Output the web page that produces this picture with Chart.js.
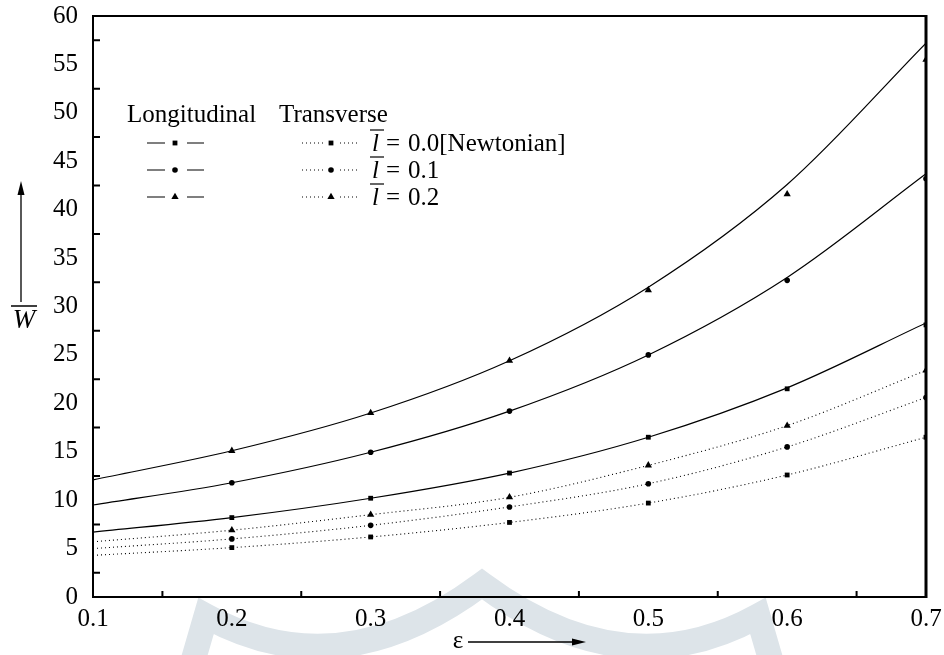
<!DOCTYPE html>
<html>
<head>
<meta charset="utf-8">
<script src="https://cdn.jsdelivr.net/npm/chart.js@4.4.1/dist/chart.umd.min.js"></script>
<style>
  html, body { margin: 0; padding: 0; background: #ffffff; }
  #wrap { width: 944px; height: 655px; position: relative; }
</style>
</head>
<body>
<div id="wrap"><canvas id="c" width="944" height="655"></canvas></div>
<script>
// ---- data ----
const eps = [0.1, 0.2, 0.3, 0.4, 0.5, 0.6, 0.7];          // curve abscissae
const markerEps = [0.2, 0.3, 0.4, 0.5, 0.6, 0.7];          // marker abscissae

// Longitudinal (solid curves)
const longCurveL0 = [6.7, 8.2, 10.2, 12.8, 16.5, 21.6, 28.3];
const longCurveL1 = [9.5, 11.8, 14.95, 19.2, 25.0, 33.0, 43.7];
const longCurveL2 = [12.1, 15.1, 19.0, 24.4, 32.0, 42.6, 57.2];
const longMarkL0 = [8.2, 10.2, 12.8, 16.5, 21.5, 28.1];
const longMarkL1 = [11.8, 14.95, 19.2, 25.0, 32.7, 43.2];
const longMarkL2 = [15.1, 19.0, 24.4, 31.7, 41.6, 55.5];

// Transverse (dotted curves)
const transCurveL0 = [4.3, 5.1, 6.2, 7.7, 9.7, 12.6, 16.5];
const transCurveL1 = [5.0, 6.0, 7.4, 9.3, 11.7, 15.5, 20.6];
const transCurveL2 = [5.7, 6.9, 8.5, 10.3, 13.6, 17.7, 23.4];
const transMarkL0 = [5.1, 6.2, 7.7, 9.7, 12.6, 16.5];
const transMarkL1 = [6.0, 7.4, 9.3, 11.7, 15.5, 20.6];
const transMarkL2 = [6.9, 8.5, 10.3, 13.6, 17.7, 23.4];

const xTickValues = [0.1, 0.2, 0.3, 0.4, 0.5, 0.6, 0.7];
const yTickValues = [0, 5, 10, 15, 20, 25, 30, 35, 40, 45, 50, 55, 60];
const xMinorTicks = [0.15, 0.25, 0.35, 0.45, 0.55, 0.65];
const yMinorTicks = [2.5, 7.5, 12.5, 17.5, 22.5, 27.5, 32.5, 37.5, 42.5, 47.5, 52.5, 57.5];

const legendHeads = ['Longitudinal', 'Transverse'];
const legendLabels = ['0.0[Newtonian]', '0.1', '0.2'];
const legendShapes = ['rect', 'circle', 'triangle'];

// ---- helpers ----
const toXY = (xs, ys) => ys.map((y, i) => ({ x: xs[i], y: y }));
const SERIF = '"Liberation Serif", "Times New Roman", serif';

function curve(ys, dotted) {
  return {
    data: toXY(eps, ys), showLine: true, pointRadius: 0, pointHoverRadius: 0,
    borderColor: '#000', borderWidth: dotted ? 1.1 : 1.2,
    borderDash: dotted ? [1, 3] : [], cubicInterpolationMode: 'monotone', fill: false
  };
}
function marks(ys, shape) {
  const r = shape === 'rect' ? 3.4 : (shape === 'circle' ? 2.8 : 4.2);
  return {
    data: toXY(markerEps, ys), showLine: false, pointStyle: shape,
    pointRadius: r, pointHoverRadius: r, pointBackgroundColor: '#000',
    pointBorderColor: '#000', pointBorderWidth: 0
  };
}

function drawPointShape(ctx, shape, x, y) {
  Chart.helpers.drawPoint(ctx, {
    pointStyle: shape,
    radius: shape === 'rect' ? 3.4 : (shape === 'circle' ? 2.8 : 4.2),
    rotation: 0, borderWidth: 0
  }, x, y);
}

const watermark = {
  id: 'watermark',
  beforeDraw(chart) {
    const ctx = chart.ctx;
    ctx.save();
    ctx.strokeStyle = '#dde4e9';
    ctx.lineWidth = 25;
    ctx.lineJoin = 'miter';
    ctx.miterLimit = 10;
    ctx.beginPath();
    ctx.moveTo(186, 685);
    ctx.lineTo(206, 616);
    ctx.quadraticCurveTo(340, 690, 482, 584);
    ctx.quadraticCurveTo(624, 690, 758, 616);
    ctx.lineTo(778, 685);
    ctx.stroke();
    ctx.restore();
  }
};

const frame = {
  id: 'frame',
  afterDraw(chart) {
    const ctx = chart.ctx;
    const a = chart.chartArea;
    const xs = chart.scales.x, ys = chart.scales.y;
    ctx.save();
    ctx.strokeStyle = '#000';
    ctx.lineCap = 'butt';
    // inward minor ticks
    ctx.lineWidth = 2;
    ctx.beginPath();
    xMinorTicks.forEach(v => {
      const px = xs.getPixelForValue(v);
      ctx.moveTo(px, a.bottom); ctx.lineTo(px, a.bottom - 6);
    });
    yMinorTicks.forEach(v => {
      const py = ys.getPixelForValue(v);
      ctx.moveTo(a.left, py); ctx.lineTo(a.left + 7, py);
    });
    ctx.stroke();
    // frame
    ctx.lineWidth = 2;
    ctx.beginPath();
    ctx.moveTo(a.left, a.top); ctx.lineTo(a.right, a.top);
    ctx.moveTo(a.left, a.top - 1); ctx.lineTo(a.left, a.bottom + 1);
    ctx.moveTo(a.left - 1, a.bottom); ctx.lineTo(a.right + 1, a.bottom);
    ctx.stroke();
    ctx.lineWidth = 3;
    ctx.beginPath();
    ctx.moveTo(a.right, a.top - 1); ctx.lineTo(a.right, a.bottom + 1);
    ctx.stroke();

    // legend
    ctx.fillStyle = '#000';
    ctx.font = '25px ' + SERIF;
    ctx.textBaseline = 'middle';
    ctx.textAlign = 'left';
    ctx.fillText(legendHeads[0], 127, 115);
    ctx.fillText(legendHeads[1], 279, 115);
    const rows = [143, 170, 197];
    rows.forEach((yc, i) => {
      // longitudinal sample
      ctx.setLineDash([]);
      ctx.lineWidth = 1.2;
      ctx.beginPath();
      ctx.moveTo(147, yc); ctx.lineTo(165, yc);
      ctx.moveTo(187, yc); ctx.lineTo(204, yc);
      ctx.stroke();
      drawPointShape(ctx, legendShapes[i], 175, yc);
      // transverse sample
      ctx.setLineDash([1, 3]);
      ctx.lineWidth = 1.1;
      ctx.beginPath();
      ctx.moveTo(302, yc); ctx.lineTo(325, yc);
      ctx.moveTo(340, yc); ctx.lineTo(358, yc);
      ctx.stroke();
      ctx.setLineDash([]);
      drawPointShape(ctx, legendShapes[i], 331, yc);
      // label: italic l with overline
      ctx.font = 'italic 25px ' + SERIF;
      ctx.fillText('l', 372, yc + 1);
      ctx.lineWidth = 1.2;
      ctx.beginPath();
      ctx.moveTo(370, yc - 13); ctx.lineTo(384, yc - 13);
      ctx.stroke();
      ctx.font = '25px ' + SERIF;
      ctx.fillText('=', 386, yc + 1);
      ctx.fillText(legendLabels[i], 408, yc + 1);
    });

    // y title: W with overline and arrow
    ctx.font = 'italic 27px ' + SERIF;
    ctx.textAlign = 'center';
    ctx.fillText('W', 24, 321);
    ctx.lineWidth = 1.3;
    ctx.beginPath();
    ctx.moveTo(11, 306); ctx.lineTo(37, 306);
    ctx.moveTo(21, 302); ctx.lineTo(21, 192);
    ctx.stroke();
    ctx.beginPath();
    ctx.moveTo(21, 181); ctx.lineTo(17.5, 195); ctx.lineTo(24.5, 195); ctx.closePath();
    ctx.fill();

    // x title: epsilon with arrow
    ctx.font = '25px ' + SERIF;
    ctx.fillText('ε', 458, 641);
    ctx.lineWidth = 1.3;
    ctx.beginPath();
    ctx.moveTo(468, 642); ctx.lineTo(575, 642);
    ctx.stroke();
    ctx.beginPath();
    ctx.moveTo(586, 642); ctx.lineTo(572, 638.5); ctx.lineTo(572, 645.5); ctx.closePath();
    ctx.fill();
    ctx.restore();
  }
};

new Chart(document.getElementById('c'), {
  type: 'scatter',
  data: {
    datasets: [
      curve(longCurveL0, false), curve(longCurveL1, false), curve(longCurveL2, false),
      curve(transCurveL0, true), curve(transCurveL1, true), curve(transCurveL2, true),
      marks(longMarkL0, 'rect'), marks(longMarkL1, 'circle'), marks(longMarkL2, 'triangle'),
      marks(transMarkL0, 'rect'), marks(transMarkL1, 'circle'), marks(transMarkL2, 'triangle')
    ]
  },
  options: {
    responsive: false,
    animation: false,
    events: [],
    layout: { padding: { left: 0, right: 18, top: 16, bottom: 0 } },
    plugins: { legend: { display: false }, tooltip: { enabled: false }, title: { display: false } },
    scales: {
      x: {
        type: 'linear', min: 0.1, max: 0.7,
        afterFit: s => { s.height = 58; s.paddingLeft = 0; s.paddingRight = 0; },
        afterBuildTicks: s => { s.ticks = xTickValues.map(v => ({ value: v })); },
        grid: { display: false, drawTicks: false },
        border: { display: false },
        ticks: {
          color: '#000', padding: 7, maxRotation: 0, autoSkip: false,
          font: { family: SERIF, size: 25 },
          callback: v => (Math.round(v * 10) / 10).toFixed(1)
        }
      },
      y: {
        type: 'linear', min: 0, max: 60,
        afterFit: s => { s.width = 93; s.paddingTop = 0; s.paddingBottom = 0; },
        afterBuildTicks: s => { s.ticks = yTickValues.map(v => ({ value: v })); },
        grid: { display: false, drawTicks: false },
        border: { display: false },
        ticks: {
          color: '#000', padding: 15, autoSkip: false,
          font: { family: SERIF, size: 25 },
          callback: v => String(v)
        }
      }
    }
  },
  plugins: [watermark, frame]
});
</script>
</body>
</html>
